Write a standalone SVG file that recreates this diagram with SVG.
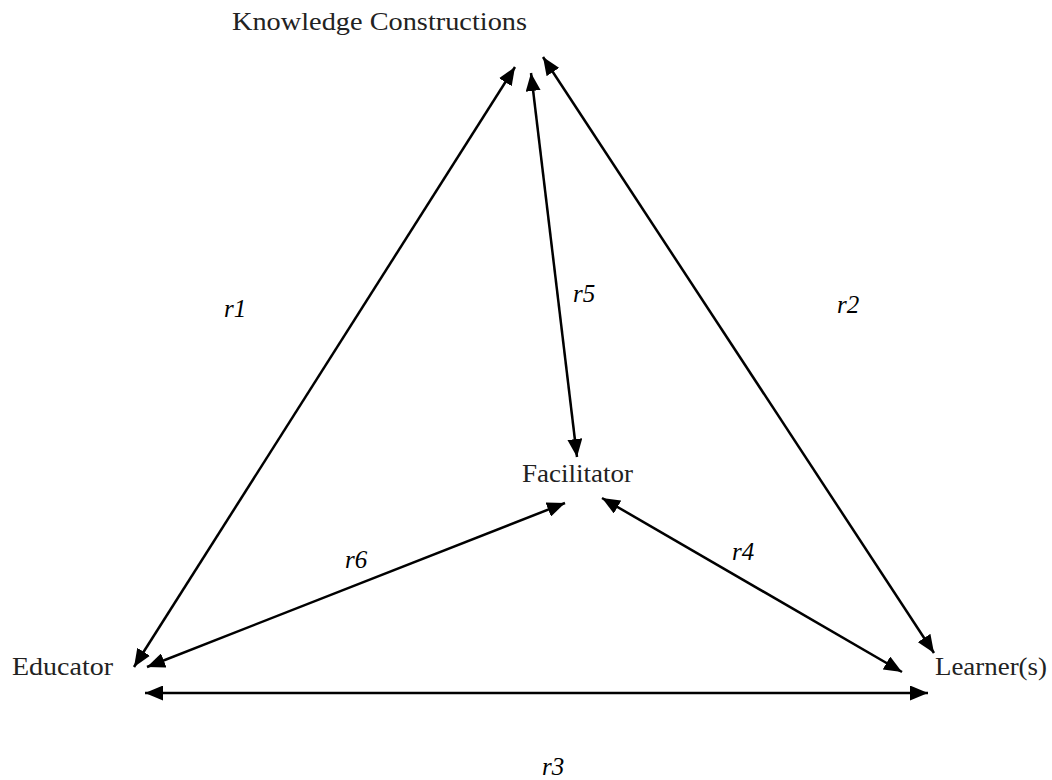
<svg xmlns="http://www.w3.org/2000/svg" width="1052" height="780" viewBox="0 0 1052 780">
<style>
.node{font-family:"Liberation Serif","Times New Roman",serif;font-size:26px;fill:#222}
.lbl{font-family:"Liberation Serif","Times New Roman",serif;font-size:25px;font-style:italic;fill:#000}
.conn line{stroke:#000;stroke-width:2.5;fill:none;marker-start:url(#ah);marker-end:url(#ah)}
</style>
<defs>
<marker id="ah" markerUnits="userSpaceOnUse" markerWidth="19" markerHeight="15" refX="18" refY="7.5" orient="auto-start-reverse">
<path d="M0,0 L18,7.5 L0,15 z" fill="#000"/>
</marker>
</defs>
<rect width="1052" height="780" fill="#fff"/>
<g id="knowledge"><text class="node" x="232" y="30" textLength="295" lengthAdjust="spacingAndGlyphs">Knowledge Constructions</text></g>
<g id="facilitator"><text class="node" x="522" y="482" textLength="111" lengthAdjust="spacingAndGlyphs">Facilitator</text></g>
<g id="educator"><text class="node" x="12" y="675" textLength="101" lengthAdjust="spacingAndGlyphs">Educator</text></g>
<g id="learner"><text class="node" x="935" y="675" textLength="112" lengthAdjust="spacingAndGlyphs">Learner(s)</text></g>
<g id="connectors" class="conn">
<line x1="515" y1="67" x2="134" y2="667"/>
<line x1="543" y1="57" x2="934" y2="653"/>
<line x1="531" y1="73" x2="577" y2="457"/>
<line x1="147" y1="667" x2="565" y2="503"/>
<line x1="602" y1="498" x2="902" y2="672"/>
<line x1="145" y1="693" x2="928" y2="693"/>
</g>
<g id="labels">
<text class="lbl" x="224" y="317">r1</text>
<text class="lbl" x="837" y="313">r2</text>
<text class="lbl" x="573" y="302">r5</text>
<text class="lbl" x="345" y="568">r6</text>
<text class="lbl" x="732" y="560">r4</text>
<text class="lbl" x="542" y="775">r3</text>
</g>
</svg>
